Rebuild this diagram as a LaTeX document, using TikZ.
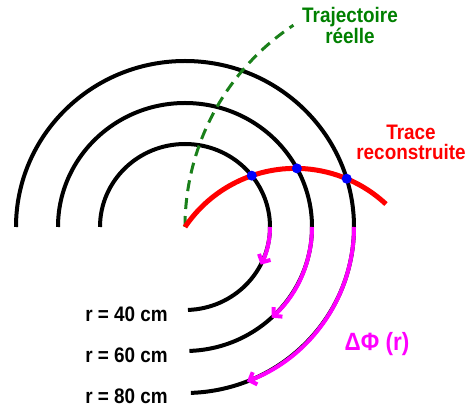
\documentclass[tikz,border=0pt]{standalone}
\usepackage{fontspec}
\setsansfont{Liberation Sans}[FakeStretch=0.9]
\usetikzlibrary{arrows.meta,intersections}
\definecolor{trkRedLine}{HTML}{FF0000}
\definecolor{trueGreenLine}{HTML}{1A801A}
\definecolor{trueGreenText}{HTML}{008000}
\definecolor{dphiMagenta}{HTML}{FF00FF}
\definecolor{hitBlue}{HTML}{0000FF}
\tikzset{
  layer arc/.style={
    line width=4pt, color=black,
  },
  dphi arc/.style={
    line width=4pt, color=dphiMagenta,
    -{Straight Barb[length=6pt,width=13pt]},
  },
  track arc/.style={
    line width=5pt, color=trkRedLine,
  },
  true arc/.style={
    line width=3pt, color=trueGreenLine,
    dash pattern=on 11pt off 7pt,
  },
  hit dot/.style={
    circle, fill=hitBlue, inner sep=0pt, minimum size=10pt,
  },
  label text/.style={
    font=\sffamily\bfseries\fontsize{21}{21.5}\selectfont,
    inner sep=0pt,
  },
}

\begin{document}
\begin{tikzpicture}[x=1pt,y=1pt]
\useasboundingbox (-185,-182) rectangle (281,227);

% Interaction point
\coordinate (ip) at (0,0);

% Detector layers: black half turn + quarter, radius label at the bottom end
\foreach \lay/\rx/\ry/\ly/\rlab in {in/85/83/-95/40, mid/127/124/-136/60,
                                   out/169/166/-177/80} {
  \draw[layer arc, name path global=\lay]
    (-\rx,0) arc[start angle=180, end angle=-88, x radius=\rx, y radius=\ry];
  \node[label text, anchor=base east] (lab\lay) at (-17,\ly) {r = \rlab\ cm};
}

% True (real) trajectory, dashed
\draw[true arc] (ip) arc[start angle=180, end angle=123.5, radius=242];

% Reconstructed track
\draw[track arc, name path=trk] (ip) arc[start angle=146, end angle=47, radius=133];

% Delta phi shift on each layer (arrow length grows with r)
\foreach \rx/\ry/\ang in {85/83/-27, 127/124/-47, 169/166/-68.5} {
  \draw[dphi arc] (\rx,0) arc[start angle=0, end angle=\ang, x radius=\rx, y radius=\ry];
}

% Hits = track crossing each layer
\foreach \lay in {in,mid,out} {
  \path[name intersections={of=trk and \lay, by=x\lay}];
  \node[hit dot] (hit\lay) at (x\lay) {};
}

% Labels
\node[label text, text=trueGreenText, align=center, anchor=north]
  (trueLabel) at (165,220) {Trajectoire\\réelle};
\node[label text, text=trkRedLine, align=center, anchor=north,
  font=\sffamily\bfseries\fontsize{21}{20}\selectfont]
  (trkLabel) at (226,102) {Trace\\reconstruite};
\node[label text, text=dphiMagenta, anchor=base,
  font=\sffamily\bfseries\fontsize{25}{25}\selectfont]
  (dphiLabel) at (192,-124) {ΔΦ (r)};

\end{tikzpicture}
\end{document}
